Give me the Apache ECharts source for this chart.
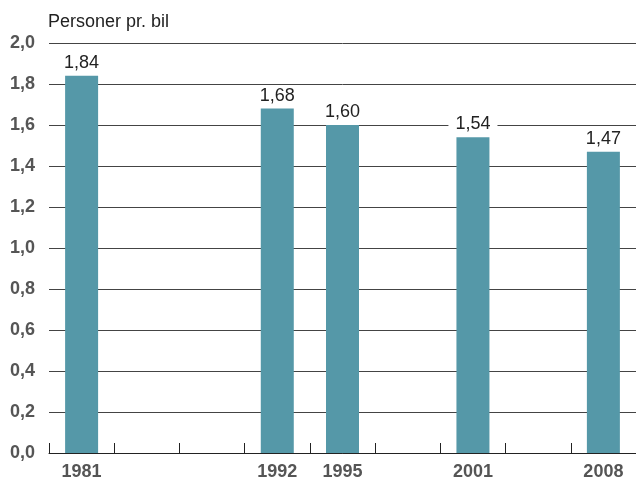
<!DOCTYPE html>
<html>
<head>
<meta charset="utf-8">
<style>
  html, body { margin: 0; padding: 0; background: #fff; }
  #chart { width: 636px; height: 484px; }
</style>
<script src="https://cdn.jsdelivr.net/npm/echarts@6/dist/echarts.min.js"></script>
</head>
<body>
<div id="chart"></div>
<script>
// Years on a continuous yearly-ish slot axis; empty slots keep the spacing between surveys.
const years = ['1981', '', '', '1992', '1995', '', '2001', '', '2008'];
const personsPerCar = [1.84, null, null, 1.68, 1.60, null, 1.54, null, 1.47];
const yTicks = [0, 0.2, 0.4, 0.6, 0.8, 1.0, 1.2, 1.4, 1.6, 1.8, 2.0];
const yTitle = 'Personer pr. bil';

const fmt = v => v.toFixed(1).replace('.', ',');
const fmt2 = v => v.toFixed(2).replace('.', ',');
const FONT = 'Liberation Sans, Arial, sans-serif';

const chart = echarts.init(document.getElementById('chart'), null, { renderer: 'canvas' });
chart.setOption({
  animation: false,
  backgroundColor: '#fff',
  textStyle: { fontFamily: FONT },
  title: {
    text: yTitle,
    left: 48,
    top: 13,
    padding: 0,
    textStyle: { fontSize: 18, fontWeight: 'normal', color: '#222', fontFamily: FONT }
  },
  grid: { left: 49, right: -1, top: 43, bottom: 31, containLabel: false },
  xAxis: {
    type: 'category',
    data: years,
    boundaryGap: true,
    axisLine: { lineStyle: { color: '#222', width: 1 } },
    axisTick: { show: true, inside: true, length: 10, interval: 0, lineStyle: { color: '#222' } },
    axisLabel: {
      interval: 0, margin: 10,
      fontSize: 18, fontWeight: 'bold', color: '#555',
      fontFamily: FONT
    },
    splitLine: { show: false }
  },
  yAxis: {
    type: 'value',
    min: yTicks[0],
    max: yTicks[yTicks.length - 1],
    interval: 0.2,
    axisLine: { show: false },
    axisTick: { show: false },
    axisLabel: {
      margin: 14,
      fontSize: 18, fontWeight: 'bold', color: '#555',
      fontFamily: FONT,
      formatter: fmt
    },
    splitLine: { lineStyle: { color: '#444', width: 1 } }
  },
  series: [{
    type: 'bar',
    data: personsPerCar,
    barWidth: 33,
    itemStyle: { color: '#5598a8' },
    label: {
      show: true,
      position: 'top',
      distance: 4,
      fontSize: 18,
      color: '#222',
      fontFamily: FONT,
      backgroundColor: '#fff',
      padding: [0, 7],
      formatter: p => (p.value == null ? '' : fmt2(p.value))
    }
  }]
});
</script>
</body>
</html>
